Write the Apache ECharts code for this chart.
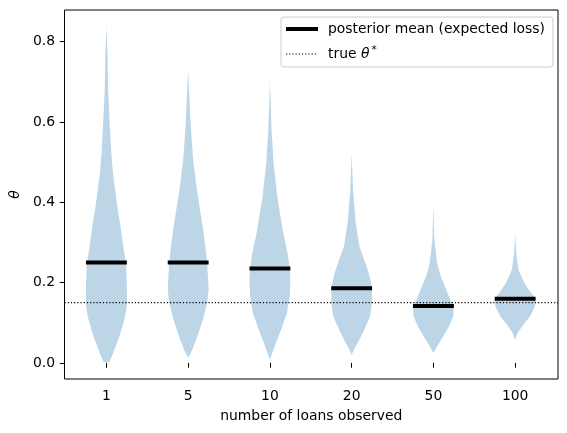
<!DOCTYPE html>
<html>
<head>
<meta charset="utf-8">
<script src="https://cdn.jsdelivr.net/npm/echarts@6/dist/echarts.min.js"></script>
<style>
  html, body { margin: 0; padding: 0; background: #fff; }
  #chart { width: 567px; height: 433px; }
</style>
</head>
<body>
<div id="chart"></div>
<script>
var categories = ['1', '5', '10', '20', '50', '100'];
var positions = [1, 2, 3, 4, 5, 6];
var means = [0.25, 0.25, 0.235, 0.186, 0.142, 0.16];
var trueTheta = 0.15;
var yTicks = [0, 0.2, 0.4, 0.6, 0.8];

// violin outlines: [theta, relative half width]
var shape1 = [[0.002, 0.14], [0.025, 0.33], [0.066, 0.63], [0.108, 0.88], [0.141, 1.0],
  [0.19, 1.0], [0.248, 0.96], [0.282, 0.85], [0.34, 0.69], [0.398, 0.51], [0.473, 0.32],
  [0.522, 0.24], [0.605, 0.15], [0.688, 0.08], [0.771, 0.05], [0.837, 0]];
var shape2 = [[0.012, 0], [0.033, 0.2], [0.066, 0.45], [0.108, 0.72], [0.15, 0.93],
  [0.182, 1.0], [0.25, 0.93], [0.29, 0.84], [0.34, 0.71], [0.423, 0.45], [0.506, 0.24],
  [0.589, 0.13], [0.66, 0.06], [0.73, 0]];
var shape3 = [[0.008, 0], [0.041, 0.23], [0.083, 0.55], [0.124, 0.83], [0.166, 0.97],
  [0.207, 1.0], [0.235, 0.97], [0.274, 0.86], [0.33, 0.63], [0.414, 0.36], [0.497, 0.18],
  [0.58, 0.08], [0.64, 0.04], [0.70, 0]];
var shape4 = [[0.02, 0], [0.035, 0.12], [0.05, 0.3], [0.083, 0.62], [0.116, 0.9],
  [0.149, 1.0], [0.186, 0.99], [0.207, 0.92], [0.24, 0.73], [0.29, 0.38], [0.348, 0.2],
  [0.431, 0.07], [0.52, 0]];
var shape5 = [[0.025, 0], [0.041, 0.18], [0.066, 0.47], [0.091, 0.76], [0.116, 0.97],
  [0.142, 1.0], [0.157, 0.83], [0.182, 0.63], [0.215, 0.36], [0.249, 0.18], [0.307, 0.05],
  [0.39, 0]];
var shape6 = [[0.058, 0], [0.075, 0.13], [0.095, 0.4], [0.116, 0.73], [0.141, 0.97],
  [0.16, 1.0], [0.178, 0.73], [0.199, 0.45], [0.232, 0.16], [0.274, 0.05], [0.325, 0]];
var shapes = [shape1, shape2, shape3, shape4, shape5, shape6];

var halfWidth = 0.25;
var violinColor = '#bcd6e8';
var font = 'DejaVu Sans';
var fs = 13.9;
var xMin = 0.487, xMax = 6.524;
var meanName = 'posterior mean (expected loss)';
var trueName = 'true θ*';

var chart = echarts.init(document.getElementById('chart'));

// mean bars as one broken line so the legend gets a thick line icon
var meanData = [];
positions.forEach(function(p, i) {
  meanData.push([p - halfWidth, means[i]]);
  meanData.push([p + halfWidth, means[i]]);
  meanData.push([p, '-']);
});

var option = {
  animation: false,
  textStyle: { fontFamily: font },
  grid: {
    left: 62, right: 9, top: 10, bottom: 54,
    show: true, borderColor: '#000', borderWidth: 1
  },
  xAxis: {
    type: 'value',
    min: xMin,
    max: xMax,
    splitLine: { show: false },
    axisLine: { show: false },
    axisTick: { show: true, customValues: positions, length: 4.8, lineStyle: { color: '#000', width: 1 } },
    axisLabel: {
      customValues: positions,
      margin: 10,
      color: '#000',
      fontSize: fs,
      fontFamily: font,
      formatter: function(v) { return categories[Math.round(v) - 1]; }
    },
    name: 'number of loans observed',
    nameLocation: 'middle',
    nameGap: 30,
    nameTextStyle: { color: '#000', fontSize: fs, fontFamily: font }
  },
  yAxis: {
    type: 'value',
    min: -0.04,
    max: 0.879,
    splitLine: { show: false },
    axisLine: { show: false },
    axisTick: { show: true, customValues: yTicks, length: 4.8, lineStyle: { color: '#000', width: 1 } },
    axisLabel: {
      customValues: yTicks,
      margin: 9.5,
      color: '#000',
      fontSize: fs,
      fontFamily: font,
      formatter: function(v) { return v.toFixed(1); }
    },
    name: 'θ',
    nameLocation: 'middle',
    nameGap: 41,
    nameTextStyle: { color: '#000', fontSize: fs, fontFamily: font, fontStyle: 'italic' }
  },
  legend: {
    orient: 'vertical',
    left: 281,
    top: 17,
    padding: [5, 8, 6, 3],
    itemWidth: 32,
    itemHeight: 14,
    itemGap: 9,
    selectedMode: false,
    backgroundColor: 'rgba(255,255,255,0.8)',
    borderColor: '#cccccc',
    borderWidth: 1,
    borderRadius: 3,
    itemStyle: { opacity: 0 },
    data: [
      { name: meanName, lineStyle: { width: 4, color: '#000' } },
      { name: trueName, lineStyle: { width: 1.2, color: '#000', type: [1.2, 2] } }
    ],
    formatter: function(name) {
      return name === trueName ? 'true {th|θ}{sup|*}' : name;
    },
    textStyle: {
      color: '#000',
      fontSize: fs,
      fontFamily: font,
      padding: [0, 0, 0, 5],
      rich: {
        th: { fontSize: fs, fontStyle: 'italic', fontFamily: font, color: '#000' },
        sup: { fontSize: 10.5, fontFamily: font, color: '#000', verticalAlign: 'top', padding: [0, 0, 7, 2] }
      }
    }
  },
  series: [
    {
      type: 'custom',
      name: 'violins',
      z: 1,
      data: positions.map(function(p) { return [p]; }),
      encode: { x: 0 },
      renderItem: function(params, api) {
        var pos = api.value(0);
        var shape = shapes[params.dataIndex];
        var right = [], left = [];
        shape.forEach(function(pt) {
          right.push(api.coord([pos + pt[1] * halfWidth, pt[0]]));
          left.unshift(api.coord([pos - pt[1] * halfWidth, pt[0]]));
        });
        return {
          type: 'polygon',
          shape: { points: right.concat(left) },
          style: { fill: violinColor }
        };
      }
    },
    {
      type: 'line',
      name: trueName,
      z: 2,
      symbol: 'none',
      data: [[xMin, trueTheta], [xMax, trueTheta]],
      lineStyle: { color: '#000', width: 1.2, type: [1.2, 2] },
      itemStyle: { color: '#000' }
    },
    {
      type: 'line',
      name: meanName,
      z: 3,
      symbol: 'none',
      connectNulls: false,
      data: meanData,
      lineStyle: { color: '#000', width: 4, cap: 'butt' },
      itemStyle: { color: '#000' }
    }
  ]
};

chart.setOption(option);
</script>
</body>
</html>
